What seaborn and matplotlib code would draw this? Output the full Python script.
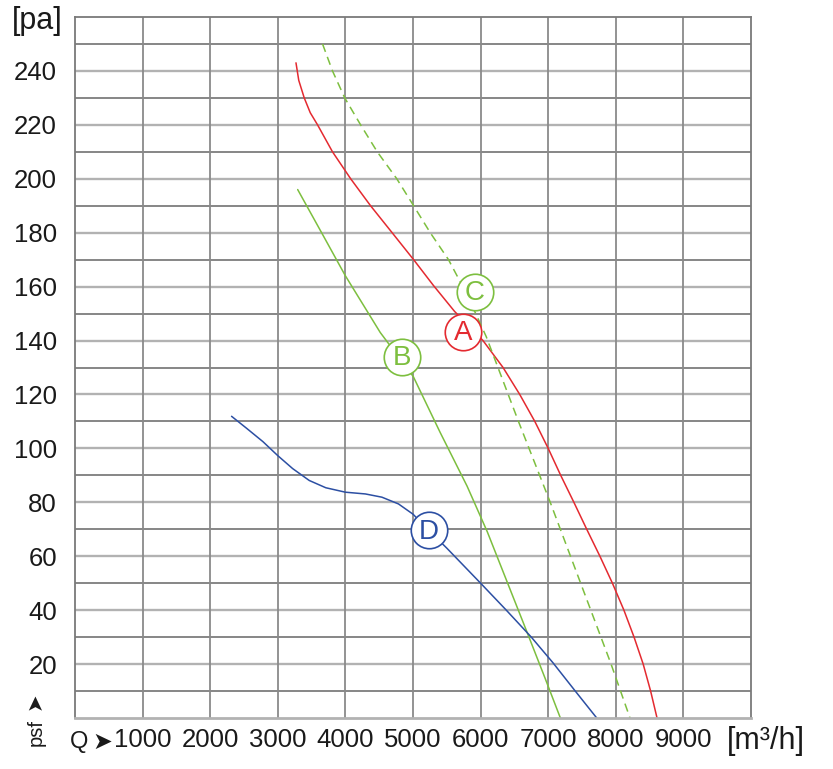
import pandas as pd
import seaborn as sns
import matplotlib.pyplot as plt

# fan curves: Q [m3/h], psf [pa]
a_q = [3269, 3310, 3391, 3480, 3588, 3809, 4078, 4372, 4691, 5009, 5300, 5615,
       6035, 6332, 6579, 6802, 7000, 7185, 7380, 7570, 7765, 7950, 8120, 8270,
       8405, 8515, 8610]
a_p = [243, 236.5, 230, 224.5, 220, 210, 200, 190, 180, 170, 160.5, 150.8,
       140, 130, 120, 110, 100, 90, 80, 70, 60, 50, 40, 30, 20, 10, 0]

b_q = [3294, 3659, 4000, 4515, 5005, 5400, 5800, 6100, 6400, 6700, 6950, 7180]
b_p = [196, 179.5, 164, 143, 126.6, 106, 86, 69, 50, 31, 15, 0]

c_q = [3662, 3809, 3990, 4225, 4471, 4760, 5009, 5255, 5525, 5800, 6084,
       6560, 7030, 7480, 7930, 8210]
c_p = [250, 240, 230, 220, 210, 200, 190, 180, 170, 157, 141.4, 110, 80,
       50, 20, 0]

d_q = [2316, 2536, 2780, 3000, 3220, 3465, 3710, 4000, 4296, 4540, 4785,
       5000, 5231, 5500, 5750, 6000, 6380, 6750, 7070, 7400, 7718]
d_p = [111.9, 107.5, 102.5, 97.3, 92.5, 88.1, 85.4, 83.75, 83.1, 81.9, 79.4,
       75.6, 69.7, 63, 56.5, 50, 40, 30, 20.5, 10, 0]

label_names = ["A", "B", "C", "D"]
label_q = [5738, 4834, 5911, 5231]
label_p = [143.3, 134, 158.1, 69.7]

x_ticks = [1000, 2000, 3000, 4000, 5000, 6000, 7000, 8000, 9000]
y_ticks = [20, 40, 60, 80, 100, 120, 140, 160, 180, 200, 220, 240]
y_minor = [10, 30, 50, 70, 90, 110, 130, 150, 170, 190, 210, 230, 250]

colors = {"A": "#e42a30", "B": "#7dbf3f", "C": "#7dbf3f", "D": "#2c4fa3"}

frames = []
for name, q, p in [("A", a_q, a_p), ("B", b_q, b_p), ("C", c_q, c_p), ("D", d_q, d_p)]:
    frames.append(pd.DataFrame({"Q": q, "p": p, "curve": name}))
df = pd.concat(frames, ignore_index=True)

sns.set_style("white")
plt.rcParams["font.family"] = ["Liberation Sans", "DejaVu Sans"]

W, H = 833, 769
fig = plt.figure(figsize=(W / 100, H / 100), dpi=100)
ax = fig.add_axes([75 / W, 51 / H, 676 / W, 701 / H])

# grid
for y in y_ticks:
    ax.axhline(y, color="#b2b2b2", lw=1.7, zorder=0)
for y in y_minor:
    ax.axhline(y, color="#727272", lw=1.2, zorder=0)
for x in x_ticks:
    ax.axvline(x, color="#8a8a8a", lw=1.3, zorder=0)

sns.lineplot(data=df, x="Q", y="p", hue="curve", style="curve",
             palette=colors, dashes={"A": "", "B": "", "C": (5.5, 3.5), "D": ""},
             sort=False, estimator=None, legend=False, lw=1.1, ax=ax, zorder=2)

# letter badges
for name, q, p in zip(label_names, label_q, label_p):
    ax.scatter(q, p, s=690, facecolor="white", edgecolor=colors[name],
               linewidths=1.2, zorder=4)
    ax.text(q, p - 0.6, name, color=colors[name], fontsize=20,
            ha="center", va="center", zorder=5)

ax.set_xlim(0, 10000)
ax.set_ylim(0, 260)
ax.set_xticks(x_ticks)
ax.set_xticklabels([str(v) for v in x_ticks])
ax.set_yticks(y_ticks)
ax.set_yticklabels([str(v) for v in y_ticks])
ax.tick_params(axis="x", length=0, pad=7, labelsize=18.5, colors="#1a1a1a")
ax.tick_params(axis="y", length=0, pad=13, labelsize=18.5, colors="#1a1a1a")
ax.set_xlabel("")
ax.set_ylabel("")

for side in ["left", "right", "top"]:
    ax.spines[side].set_color("#7a7a7a")
    ax.spines[side].set_linewidth(1.3)
ax.spines["bottom"].set_color("#b2b2b2")
ax.spines["bottom"].set_linewidth(2)

# axis captions
fig.text(37 / W, 1 - 21 / H, "[pa]", fontsize=22, ha="center", va="center", color="#1a1a1a")
fig.text(727 / W, 1 - 741 / H, "[m³/h]", fontsize=22, ha="left", va="center", color="#1a1a1a")
fig.text(70 / W, 1 - 742 / H, "Q", fontsize=17, ha="left", va="center", color="#1a1a1a")
fig.text(92 / W, 1 - 742 / H, "➤", fontsize=17, ha="left", va="center",
         family=["DejaVu Sans"], color="#1a1a1a")
fig.text(36 / W, 1 - 733 / H, "psf", fontsize=14.5, rotation=90, ha="center",
         va="center", color="#1a1a1a")
fig.text(35 / W, 1 - 701 / H, "➤", fontsize=15, rotation=90, ha="center",
         va="center", family=["DejaVu Sans"], color="#1a1a1a")

fig.savefig("out.png", dpi=100, facecolor="white")
